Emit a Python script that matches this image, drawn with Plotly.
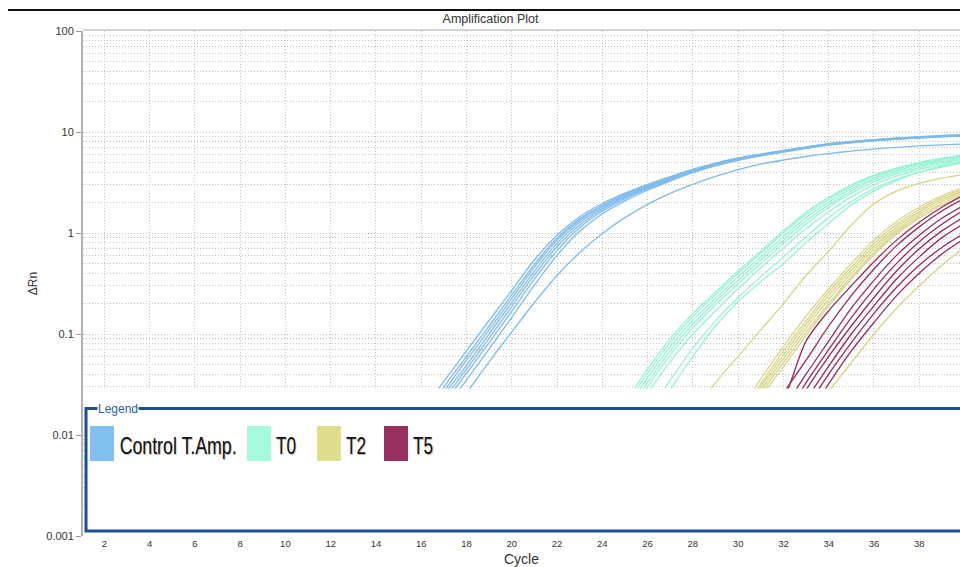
import json
import plotly.graph_objects as go

# ---------------------------------------------------------------------------
# Amplification curves: delta-Rn per cycle, one list per well.
# Each well is (first cycle, values for consecutive cycles up to 40).
# ---------------------------------------------------------------------------
control_wells = [
    (15, [0.0085, 0.017, 0.034, 0.068, 0.136, 0.27, 0.54, 0.95, 1.45, 1.96, 2.48, 3.03, 3.62,
          4.28, 4.93, 5.53, 6.05, 6.58, 7.13, 7.67, 8.07, 8.42, 8.72, 8.98, 9.23, 9.43]),
    (15, [0.0075, 0.015, 0.03, 0.06, 0.12, 0.245, 0.49, 0.89, 1.38, 1.88, 2.41, 2.96, 3.55,
          4.22, 4.87, 5.48, 6.0, 6.52, 7.08, 7.61, 8.01, 8.36, 8.66, 8.92, 9.17, 9.37]),
    (16, [0.0137, 0.027, 0.055, 0.11, 0.225, 0.46, 0.85, 1.33, 1.83, 2.36, 2.91, 3.51, 4.18,
          4.83, 5.45, 5.97, 6.49, 7.04, 7.57, 7.97, 8.32, 8.62, 8.87, 9.12, 9.32]),
    (16, [0.0124, 0.025, 0.049, 0.1, 0.205, 0.42, 0.79, 1.27, 1.77, 2.3, 2.85, 3.45, 4.12,
          4.77, 5.39, 5.92, 6.44, 7.0, 7.52, 7.93, 8.28, 8.58, 8.83, 9.08, 9.28]),
    (16, [0.0113, 0.0226, 0.045, 0.091, 0.187, 0.385, 0.73, 1.2, 1.71, 2.24, 2.8, 3.4, 4.08,
          4.73, 5.35, 5.89, 6.41, 6.96, 7.49, 7.9, 8.25, 8.55, 8.8, 9.05, 9.25]),
    (16, [0.0101, 0.0203, 0.041, 0.082, 0.168, 0.35, 0.67, 1.13, 1.64, 2.17, 2.73, 3.34, 4.02,
          4.68, 5.3, 5.84, 6.36, 6.92, 7.45, 7.86, 8.21, 8.51, 8.76, 9.01, 9.21]),
    (16, [0.0088, 0.0177, 0.035, 0.071, 0.146, 0.305, 0.6, 1.04, 1.55, 2.08, 2.65, 3.27, 3.96,
          4.62, 5.25, 5.8, 6.32, 6.88, 7.41, 7.82, 8.17, 8.47, 8.72, 8.97, 9.17]),
    (17, [0.012, 0.026, 0.053, 0.105, 0.205, 0.38, 0.64, 0.99, 1.42, 1.92, 2.47, 3.03, 3.63,
          4.25, 4.8, 5.28, 5.72, 6.12, 6.48, 6.78, 7.04, 7.28, 7.45, 7.6]),
]

t0_wells = [
    (24, [0.01, 0.021, 0.045, 0.09, 0.16, 0.26, 0.42, 0.66, 1.05, 1.6, 2.25, 3.0, 3.75, 4.4, 5.0, 5.5, 5.95]),
    (24, [0.009, 0.019, 0.041, 0.083, 0.15, 0.245, 0.4, 0.63, 1.0, 1.52, 2.15, 2.9, 3.65, 4.3, 4.9, 5.4, 5.85]),
    (24, [0.008, 0.017, 0.037, 0.075, 0.137, 0.225, 0.37, 0.58, 0.92, 1.42, 2.02, 2.75, 3.5, 4.15, 4.75, 5.25, 5.7]),
    (24, [0.007, 0.015, 0.033, 0.068, 0.125, 0.21, 0.34, 0.54, 0.85, 1.32, 1.9, 2.6, 3.35, 4.0, 4.6, 5.1, 5.55]),
    (24, [0.0065, 0.014, 0.03, 0.062, 0.115, 0.195, 0.315, 0.5, 0.79, 1.23, 1.8, 2.48, 3.2, 3.85, 4.45, 4.95, 5.4]),
    (24, [0.0055, 0.012, 0.026, 0.053, 0.1, 0.17, 0.28, 0.45, 0.71, 1.1, 1.62, 2.28, 3.0, 3.65, 4.25, 4.75, 5.2]),
    (25, [0.007, 0.016, 0.035, 0.072, 0.135, 0.23, 0.37, 0.58, 0.92, 1.42, 2.05, 2.75, 3.4, 4.0, 4.5, 4.95]),
    (25, [0.005, 0.012, 0.028, 0.06, 0.12, 0.21, 0.33, 0.5, 0.8, 1.25, 1.9, 2.6, 3.3, 4.0, 4.6, 5.1]),
]

t2_wells = [
    (27, [0.008, 0.016, 0.033, 0.06, 0.11, 0.2, 0.38, 0.66, 1.2, 1.95, 2.6, 3.1, 3.5, 3.8]),
    (30, [0.016, 0.036, 0.075, 0.15, 0.28, 0.5, 0.85, 1.3, 1.8, 2.35, 2.85]),
    (30, [0.015, 0.032, 0.068, 0.135, 0.26, 0.46, 0.79, 1.22, 1.7, 2.25, 2.75]),
    (30, [0.014, 0.03, 0.062, 0.125, 0.24, 0.43, 0.74, 1.15, 1.62, 2.15, 2.65]),
    (30, [0.013, 0.028, 0.057, 0.115, 0.22, 0.4, 0.69, 1.08, 1.54, 2.05, 2.55]),
    (30, [0.012, 0.026, 0.052, 0.105, 0.2, 0.37, 0.64, 1.02, 1.47, 1.95, 2.45]),
    (30, [0.011, 0.024, 0.047, 0.097, 0.19, 0.35, 0.61, 0.97, 1.4, 1.87, 2.35]),
    (33, [0.013, 0.027, 0.052, 0.1, 0.18, 0.3, 0.48, 0.72]),
]

t5_wells = [
    (31, [0.01, 0.022, 0.085, 0.17, 0.3, 0.52, 0.85, 1.28, 1.8, 2.4]),
    (31, [0.012, 0.026, 0.055, 0.12, 0.24, 0.44, 0.75, 1.15, 1.65, 2.2]),
    (31, [0.008, 0.018, 0.04, 0.085, 0.18, 0.34, 0.6, 0.95, 1.4, 1.9]),
    (31, [0.006, 0.014, 0.033, 0.07, 0.145, 0.28, 0.5, 0.82, 1.22, 1.7]),
    (31, [0.005, 0.012, 0.028, 0.06, 0.12, 0.23, 0.42, 0.7, 1.05, 1.45]),
    (32, [0.009, 0.022, 0.048, 0.1, 0.19, 0.35, 0.58, 0.9, 1.25]),
    (32, [0.007, 0.018, 0.04, 0.082, 0.16, 0.29, 0.48, 0.72, 1.0]),
    (32, [0.006, 0.014, 0.032, 0.068, 0.13, 0.24, 0.4, 0.62, 0.88]),
]

group_names = ["Control T.Amp.", "T0", "T2", "T5"]
group_wells = [control_wells, t0_wells, t2_wells, t5_wells]
line_colors = ["#7fbbec", "#98f3d2", "#d8d486", "#962a5c"]
swatch_colors = ["#82c0f0", "#a6fadc", "#dfdd8e", "#95305f"]

x_ticks = list(range(2, 41, 2))
y_ticks = [0.001, 0.01, 0.1, 1, 10, 100]
y_tick_text = ["0.001", "0.01", "0.1", "1", "10", "100"]

# ---------------------------------------------------------------------------
# Page geometry (pixels)
# ---------------------------------------------------------------------------
W, H = 960, 567
PLOT_L, PLOT_R, PLOT_T, PLOT_B = 83, 960, 31, 536
PW, PH = PLOT_R - PLOT_L, PLOT_B - PLOT_T


def px(x):
    return (x - PLOT_L) / PW


def py(y):
    return (PLOT_B - y) / PH


fig = go.Figure()

for wells, color in zip(group_wells, line_colors):
    for start, values in wells:
        fig.add_trace(go.Scatter(
            x=list(range(start, start + len(values))),
            y=values,
            mode="lines",
            line=dict(color=color, width=1.3, shape="spline", smoothing=0.8),
            hoverinfo="skip",
            showlegend=False,
        ))

grid_color = "#c2c2c2"
grid_dash = "1px,2px"
minor_vals = [k * 10.0 ** e for e in range(-3, 2) for k in range(2, 10)]

fig.update_xaxes(
    range=[1.06, 39.8],
    tickvals=x_ticks,
    showgrid=True, gridcolor=grid_color, griddash=grid_dash, gridwidth=1,
    zeroline=False, showline=False,
    ticks="", tickfont=dict(size=9.5, color="#333"),
    title=dict(text="Cycle", font=dict(size=14, color="#333"), standoff=8),
)
fig.update_yaxes(
    type="log", range=[-3, 2],
    tickvals=y_ticks, ticktext=y_tick_text,
    showgrid=True, gridcolor=grid_color, griddash=grid_dash, gridwidth=1,
    minor=dict(tickvals=minor_vals, showgrid=True, gridcolor=grid_color,
               griddash=grid_dash, gridwidth=1, ticks=""),
    zeroline=False,
    showline=True, linecolor="#b3b3b3", linewidth=2,
    ticks="outside", ticklen=5, tickcolor="#9a9a9a",
    tickfont=dict(size=11, color="#333"),
    title=dict(text="ΔRn", font=dict(size=12, color="#333"), standoff=6),
)

narrow = "Liberation Sans Narrow, Arial Narrow, Liberation Sans, Arial, sans-serif"

shapes = [
    # rule across the top of the page
    dict(type="line", xref="paper", yref="paper", x0=px(8), x1=1.0, y0=py(10), y1=py(10),
         line=dict(color="#111", width=2)),
    # top frame of the plot area
    dict(type="line", xref="paper", yref="paper", x0=0, x1=1.0, y0=py(30), y1=py(30),
         line=dict(color="#d2d2d2", width=2)),
    # legend panel background
    dict(type="rect", xref="paper", yref="paper", x0=px(84.5), x1=1.01, y0=0, y1=py(388.5),
         fillcolor="white", line=dict(width=0), layer="above"),
    # legend frame
    dict(type="rect", xref="paper", yref="paper", x0=px(86), x1=1.02, y0=py(531), y1=py(408.5),
         fillcolor="rgba(0,0,0,0)", line=dict(color="#1d4f94", width=3), layer="above"),
]

annotations = [
    dict(text="Legend", xref="paper", yref="paper", x=px(118), y=py(409), xanchor="center",
         yanchor="middle", align="center", showarrow=False, bgcolor="white", borderpad=0,
         font=dict(size=12, color="#2b5ea6", family="Liberation Sans, Arial, sans-serif")),
]

# legend entries: swatch left edge and label width, in pixels
legend_swatch_left = [90, 247, 317, 384]
legend_label_width = [117, 20, 20, 20]
swatch_w = 24
label_gap = 5
text_widths = {}
for name, color, left, tw in zip(group_names, swatch_colors, legend_swatch_left, legend_label_width):
    shapes.append(dict(type="rect", xref="paper", yref="paper",
                       x0=px(left), x1=px(left + swatch_w), y0=py(461), y1=py(426),
                       fillcolor=color, line=dict(width=0), layer="above"))
    text_left = left + swatch_w + label_gap
    annotations.append(dict(text=name, xref="paper", yref="paper",
                            x=px(text_left + tw / 2), y=py(445), xanchor="center", yanchor="middle",
                            align="center", showarrow=False,
                            font=dict(size=24, color="#111", family=narrow,
                                      shadow="1px 1px 1px rgba(0,0,0,0.3)")))
    text_widths[name] = tw

fig.update_layout(
    width=W, height=H,
    margin=dict(l=PLOT_L, r=W - PLOT_R, t=PLOT_T, b=H - PLOT_B),
    paper_bgcolor="white", plot_bgcolor="white",
    showlegend=False,
    font=dict(family="Liberation Sans, Arial, sans-serif", color="#333"),
    title=dict(text="Amplification Plot", x=490.5 / W, xref="container", xanchor="center",
               y=1 - 19 / H, yref="container", yanchor="middle",
               font=dict(size=12.5, color="#333")),
    shapes=shapes,
    annotations=annotations,
)

# condense the legend labels to their narrow set width
condense_js = """
var widths = %s;
document.querySelectorAll('text.annotation-text').forEach(function (t) {
  var w = widths[t.textContent];
  if (w) {
    t.setAttribute('textLength', w);
    t.setAttribute('lengthAdjust', 'spacingAndGlyphs');
  }
});
""" % json.dumps(text_widths)

fig.write_html("out.html", config={"displayModeBar": False}, post_script=condense_js)
